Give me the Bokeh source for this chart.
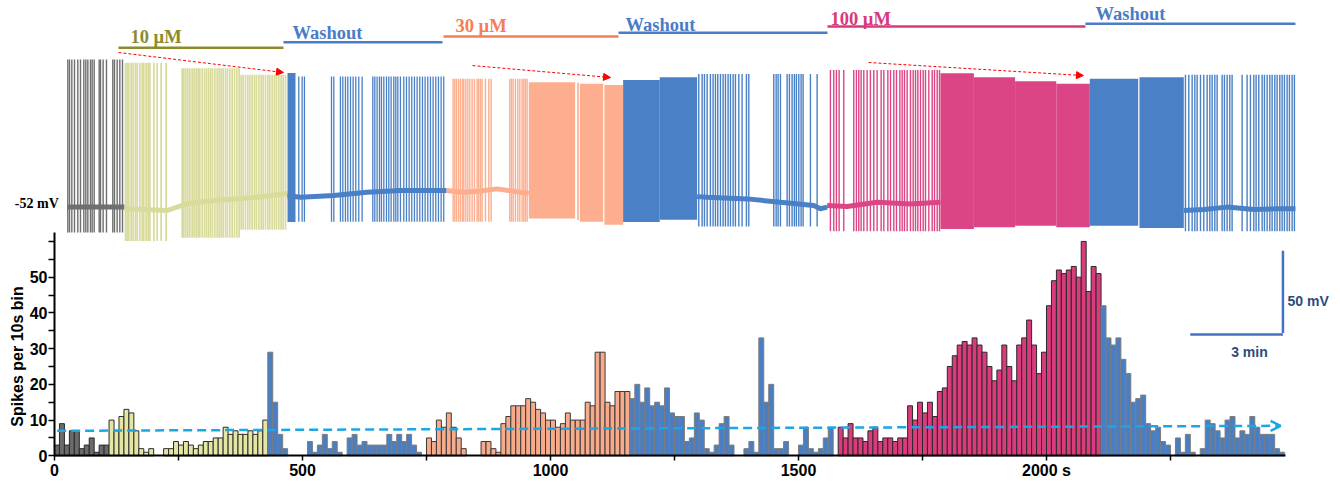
import math
from bokeh.plotting import figure
from bokeh.models import (Range1d, FixedTicker, Label, Arrow, NormalHead, OpenHead,
                          ColumnDataSource)
from bokeh.embed import file_html
from bokeh.resources import INLINE

# ---------------- histogram data (spikes per 10 s bin) ----------------
BIN = 10
counts_control = [3, 9, 3, 7, 7, 2, 3, 5, 1, 3, 3]
counts_10uM = [10, 7, 11, 13, 12, 7, 2, 1, 2, 0, 0, 2, 2, 4, 3, 4, 3, 2, 3, 4, 4, 5,
               5, 8, 6, 7, 6, 6, 7, 6, 7, 10]
counts_wash1 = [29, 15, 6, 2, 0, 0, 0, 0, 4, 1, 3, 6, 2, 4, 1, 0, 5, 6, 3, 4, 3, 3,
                3, 3, 6, 4, 6, 4, 6, 3, 1, 0]
counts_30uM = [5, 4, 10, 8, 12, 8, 5, 2, 0, 0, 0, 4, 4, 2, 1, 9, 11, 14, 14, 14, 16,
               15, 13, 12, 10, 10, 8, 9, 12, 10, 10, 10, 15, 14, 29, 29, 15, 14, 18,
               18, 18]
counts_wash2 = [16, 20, 15, 19, 14, 15, 14, 19, 12, 11, 11, 4, 5, 12, 10, 2, 1, 3, 9,
                11, 3, 0, 0, 2, 4, 1, 33, 15, 20, 2, 2, 4, 0, 0, 3, 8, 2, 1, 2, 5, 8, 0]
counts_100uM = [8, 5, 9, 5, 5, 4, 7, 8, 4, 5, 5, 4, 5, 5, 14, 10, 15, 12, 15, 11, 18,
                19, 25, 28, 31, 32, 31, 33, 31, 29, 25, 21, 24, 31, 25, 21, 31, 33, 38,
                31, 23, 29, 42, 49, 52, 51, 52, 53, 50, 60, 46, 53, 51]
counts_wash3 = [42, 33, 31, 33, 27, 23, 15, 16, 17, 9, 7, 8, 4, 3, 0, 5, 1, 6, 1, 0, 2,
                10, 9, 7, 5, 10, 11, 5, 7, 6, 11, 8, 6, 6, 6, 2, 1]

hist_fill = {"control": "#6a6a6a", "10uM": "#e4e6a4", "wash": "#4a7ec3",
             "30uM": "#f8ab8b", "100uM": "#d93b7c"}
hist_line = {"control": "#2a2a2a", "10uM": "#2a2a2a", "wash": "#7c7c7c",
             "30uM": "#3a3a3a", "100uM": "#2a2a2a"}
phases = [("control", counts_control), ("10uM", counts_10uM), ("wash", counts_wash1),
          ("30uM", counts_30uM), ("wash", counts_wash2), ("100uM", counts_100uM),
          ("wash", counts_wash3)]

# ---------------- membrane potential trace (time in s, potential in mV) ----------------
gray_spike_t = [0.6, 3.9, 8.4, 13.6, 20.0, 25.2, 31.7, 35.6, 39.5, 44.6, 47.9, 51.8,
                61.5, 64.1, 69.2, 75.7, 88.0, 91.2, 96.4, 101.6, 106.8]
yellow_a_t = [112.6, 115.8, 119.1, 123.6, 127.5, 132.0, 135.3, 140.4, 145.0, 148.2,
              152.7, 156.6, 159.9, 167.6, 174.1, 181.8, 191.5]
yellow_b_t = [222.6, 225.9, 229.7, 233.6, 237.5, 242.0, 245.9, 249.8, 253.7, 256.9,
              261.5, 266.0, 269.9, 273.8, 277.6, 281.5, 286.1, 290.6, 294.5, 298.3,
              302.2, 306.8, 310.6, 315.2, 319.7, 324.2, 328.8, 333.3]
yellow_c_t = [337.2, 341.1, 345.6, 350.1, 354.0, 358.5, 363.1, 366.9, 371.5, 376.0,
              379.9, 384.4, 389.0, 392.8, 397.4, 401.9, 405.8, 410.3, 414.8, 418.7, 423.3]
blue1_t = [449.1, 455.6, 460.1, 512.6, 517.1, 530.0, 534.6, 539.7, 544.3, 549.5, 554.6,
           559.8, 565.6, 572.1, 592.8, 596.7, 601.2, 605.8, 609.6, 614.2, 619.4, 623.9,
           628.4, 633.6, 637.5, 641.4, 646.5, 653.0, 658.2, 663.4, 668.5, 673.7, 678.9,
           684.1, 689.3, 694.4, 699.6, 704.8, 709.9, 715.1, 720.3, 725.5, 730.6]
salmon_t = [748.8, 752.0, 755.3, 759.2, 763.0, 766.9, 769.5, 773.4, 777.3, 781.2, 785.7,
            790.2, 795.4, 798.6, 801.9, 805.1, 811.6, 818.1, 822.6, 858.8, 862.1, 865.3,
            869.8, 874.4, 878.3, 882.8, 886.0, 889.3, 892.5]
blue2_t = [1225.8, 1232.3, 1236.8, 1242.0, 1248.4, 1253.6, 1258.2, 1262.7, 1267.9,
           1273.0, 1277.6, 1282.7, 1287.3, 1292.5, 1297.0, 1303.5, 1309.9, 1318.3,
           1322.9, 1371.4, 1376.0, 1379.8, 1384.4, 1397.3, 1401.8, 1407.0, 1411.5,
           1415.4, 1420.0, 1424.5, 1428.4, 1442.6, 1455.6]
pink_t = [1481.4, 1487.9, 1493.1, 1498.3, 1507.3, 1526.7, 1531.9, 1536.5, 1541.0, 1546.2,
          1552.7, 1559.1, 1565.6, 1572.1, 1579.9, 1585.1, 1592.9, 1598.1, 1604.5, 1609.7,
          1616.2, 1620.7, 1625.2, 1630.4, 1636.9, 1642.1, 1646.6, 1651.1, 1656.3, 1661.5,
          1666.0, 1672.5, 1679.0, 1683.5, 1688.7, 1693.2]
blue3_t = [2170.8, 2177.3, 2183.8, 2189.0, 2193.5, 2200.0, 2206.4, 2212.9, 2218.1,
           2222.6, 2227.8, 2232.3, 2242.0, 2246.5, 2251.7, 2256.9, 2261.4, 2280.8,
           2290.5, 2297.0, 2303.5, 2308.0, 2313.2, 2319.7, 2324.2, 2329.4, 2334.6,
           2339.1, 2344.3, 2348.8, 2354.0, 2358.5, 2363.0, 2368.2, 2372.7, 2377.9, 2382.4]

# dense (unresolved) firing blocks
block_left = [427.2, 895.7, 989.6, 994.7, 1042.6, 1078.9, 1150.0, 1695.1, 1760.0,
              1840.0, 1920.0, 1985.1, 2081.5]
block_right = [442.7, 985.7, 992.8, 1040.1, 1078.9, 1150.0, 1222.6, 1760.0, 1840.0,
               1920.0, 1985.1, 2079.0, 2167.6]
block_top = [30.1, 24.4, 24.0, 23.5, 22.6, 25.8, 27.5, 30.0, 27.5, 25.0, 23.4, 26.5, 27.5]
block_bottom = [-62.3, -60.0, -61.0, -62.0, -64.0, -62.3, -60.8, -66.5, -65.5, -64.5,
                -65.4, -64.5, -66.0]
block_phase = ["wash", "30uM", "30uM", "30uM", "30uM", "wash", "wash", "100uM", "100uM",
               "100uM", "100uM", "wash", "wash"]

# resting baseline
base_gray_t, base_gray_mv = [0, 110.7], [-53.0, -53.0]
base_yel_t = [110.7, 193.5, 232.3, 284.1, 361.8, 427.2]
base_yel_mv = [-54.0, -55.1, -50.8, -48.9, -47.0, -44.6]
base_b1_t = [427.2, 452.4, 517.1, 581.8, 646.5, 736.0]
base_b1_mv = [-46.0, -46.9, -45.8, -43.8, -42.7, -42.7]
base_sal_t = [736.0, 769.5, 801.9, 834.2, 866.6, 895.7]
base_sal_mv = [-42.7, -43.8, -43.0, -41.7, -43.2, -44.6]
base_b2_t = [1222.6, 1242.0, 1319.6, 1384.4, 1449.1, 1462.0, 1475.0]
base_b2_mv = [-46.5, -46.9, -47.9, -50.0, -52.0, -54.0, -53.0]
base_pink_t = [1475.0, 1513.8, 1572.2, 1636.9, 1695.1]
base_pink_mv = [-52.0, -52.6, -50.0, -51.0, -50.0]
base_b3_t = [2167.6, 2206.4, 2251.7, 2303.5, 2348.8, 2384.4]
base_b3_mv = [-55.1, -54.5, -53.0, -54.5, -54.0, -54.0]

# drug application periods
period_labels = ["10 µM", "Washout", "30 µM", "Washout", "100 µM", "Washout"]
period_start = [99.0, 419.4, 730.1, 1069.9, 1475.7, 1976.6]
period_end = [419.4, 728.1, 1069.9, 1475.7, 1976.6, 2384.4]
period_bar_mv = [45.7, 49.2, 52.7, 55.0, 58.9, 60.6]
period_label_t = [122.3, 436.9, 753.4, 1083.5, 1481.5, 1996.1]
period_label_mv = [52.7, 54.9, 59.0, 60.0, 63.7, 66.5]
period_color = ["#8b8b2c", "#4a7dc6", "#f47e57", "#4a7dc6", "#d8397b", "#4a7dc6"]

# red dotted trend arrows on spike peaks
trend_t0 = [99.0, 786.4, 1555.3]
trend_t1 = [419.4, 1054.4, 1972.7]
trend_mv0 = [42.8, 34.7, 36.6]
trend_mv1 = [30.4, 27.3, 28.5]

trace_col = {"control": "#6f6f6f", "10uM": "#d9db9c", "wash": "#4a80c5",
             "30uM": "#fdae8e", "100uM": "#dc4585"}

# ---------------- figure ----------------
W, H = 1336, 482
p = figure(width=W, height=H, output_backend="svg", toolbar_location=None, title=None,
           x_range=Range1d(-108.87, 2584.7), y_range=Range1d(-7.47, 127.43),
           min_border=0, min_border_left=0, min_border_right=0, min_border_top=0,
           min_border_bottom=0)
p.extra_x_ranges = {"ts": Range1d(-130.1, 2464.1)}
p.extra_y_ranges = {"mv": Range1d(-223.62, 75.01)}
p.grid.visible = False
p.outline_line_color = None
p.background_fill_color = "white"
p.border_fill_color = "white"

# histogram
xs, tops, fills, lines = [], [], [], []
i = 0
for ph, cnts in phases:
    for c in cnts:
        if c > 0:
            xs.append(i * BIN + BIN / 2)
            tops.append(c)
            fills.append(hist_fill[ph])
            lines.append(hist_line[ph])
        i += 1
src = ColumnDataSource(dict(x=xs, top=tops, fill=fills, line=lines))
p.vbar(x="x", top="top", bottom=0, width=BIN, fill_color="fill", line_color="line",
       line_width=1, source=src)

# trend line of spike rate
p.add_layout(Arrow(x_start=5.4, y_start=7.0, x_end=2472, y_end=8.4,
                   line_color="#1ba6e6", line_width=2.5, line_dash="9 5",
                   end=OpenHead(size=10, line_color="#1ba6e6", line_width=2.5)))

# trace: baseline
TR = dict(x_range_name="ts", y_range_name="mv")
for bt, bm, ph in [(base_gray_t, base_gray_mv, "control"), (base_yel_t, base_yel_mv, "10uM"),
                   (base_b1_t, base_b1_mv, "wash"), (base_sal_t, base_sal_mv, "30uM"),
                   (base_b2_t, base_b2_mv, "wash"), (base_pink_t, base_pink_mv, "100uM"),
                   (base_b3_t, base_b3_mv, "wash")]:
    p.line(bt, bm, line_color=trace_col[ph], line_width=5, **TR)

# trace: dense blocks
p.quad(left=block_left, right=block_right, top=block_top, bottom=block_bottom,
       fill_color=[trace_col[b] for b in block_phase], line_color=None, **TR)

# trace: individual spikes
for st, top, bot, ph, lw in [(gray_spike_t, 38.5, -68.7, "control", 1.4),
                             (yellow_a_t, 36.5, -74.0, "10uM", 1.7),
                             (yellow_b_t, 33.0, -72.0, "10uM", 1.7),
                             (yellow_c_t, 29.0, -67.0, "10uM", 1.7),
                             (blue1_t, 28.0, -62.0, "wash", 1.3),
                             (salmon_t, 26.5, -62.0, "30uM", 1.4),
                             (blue2_t, 29.5, -65.0, "wash", 1.4),
                             (pink_t, 32.0, -68.0, "100uM", 1.4),
                             (blue3_t, 29.0, -68.0, "wash", 1.4)]:
    p.segment(x0=st, x1=st, y0=[bot] * len(st), y1=[top] * len(st),
              line_color=trace_col[ph], line_width=lw, **TR)

# drug periods
p.segment(x0=period_start, x1=period_end, y0=period_bar_mv, y1=period_bar_mv,
          line_color=period_color, line_width=2.5, **TR)
for lab, lt, lm, col in zip(period_labels, period_label_t, period_label_mv, period_color):
    p.add_layout(Label(x=lt, y=lm, text=lab, text_color=col,
                       text_font="Liberation Serif", text_font_style="bold",
                       text_font_size="18.5px", text_baseline="middle", **TR))

for a0, a1, m0, m1 in zip(trend_t0, trend_t1, trend_mv0, trend_mv1):
    p.add_layout(Arrow(x_start=a0, y_start=m0, x_end=a1, y_end=m1, line_color="red",
                       line_width=1, line_dash="3 2",
                       end=NormalHead(size=7, fill_color="red", line_color="red"), **TR))

p.add_layout(Label(x=-16.9, y=-50.8, text="-52 mV", text_color="black",
                   text_font="Liberation Serif", text_font_style="bold",
                   text_font_size="14px", text_align="right", text_baseline="middle", **TR))

# scale bars
SB_COL = "#4472c4"
p.segment(x0=[2360.1, 2180.1], x1=[2360.1, 2360.1], y0=[-80.0, -132.0],
          y1=[-131.0, -132.0], line_color=SB_COL, line_width=2.5, **TR)
p.add_layout(Label(x=2368.9, y=-110.9, text="50 mV", text_color="#2e4a7e",
                   text_font="Liberation Sans", text_font_style="bold",
                   text_font_size="14px", text_baseline="middle", **TR))
p.add_layout(Label(x=2295.0, y=-142.5, text="3 min", text_color="#2e4a7e",
                   text_font="Liberation Sans", text_font_style="bold",
                   text_font_size="14px", text_align="center", text_baseline="middle", **TR))

# axes (drawn at fixed data locations inside the canvas)
xa = p.xaxis[0]
xa.fixed_location = 0
xa.ticker = FixedTicker(ticks=list(range(0, 2500, 250)))
xa.major_label_overrides = {t: ("" if t % 500 else ("2000 s" if t == 2000 else str(t)))
                            for t in range(0, 2500, 250)}
xa.bounds = (0, 2482)
ya = p.yaxis[0]
ya.fixed_location = 0
ya.ticker = FixedTicker(ticks=list(range(0, 65, 5)))
ya.major_label_overrides = {t: ("" if (t % 10 or t > 50) else str(t)) for t in range(0, 65, 5)}
ya.bounds = (0, 62.5)
for ax in (xa, ya):
    ax.axis_label = None
    ax.axis_line_width = 2
    ax.axis_line_color = "black"
    ax.major_tick_in = 0
    ax.major_tick_line_width = 1.5
    ax.major_tick_line_color = "black"
    ax.minor_tick_line_color = None
    ax.major_label_text_font = "Liberation Sans"
    ax.major_label_text_font_style = "bold"
    ax.major_label_text_font_size = "16px"
    ax.major_label_text_color = "black"
    ax.major_label_standoff = 1
xa.major_tick_out = 5
ya.major_tick_out = 6

p.add_layout(Label(x=-75.2, y=27.8, text="Spikes per 10s bin", angle=math.pi / 2,
                   text_font="Liberation Sans", text_font_style="bold",
                   text_font_size="16px", text_color="black",
                   text_align="center", text_baseline="middle"))

open("out.html", "w").write(file_html(p, INLINE))
